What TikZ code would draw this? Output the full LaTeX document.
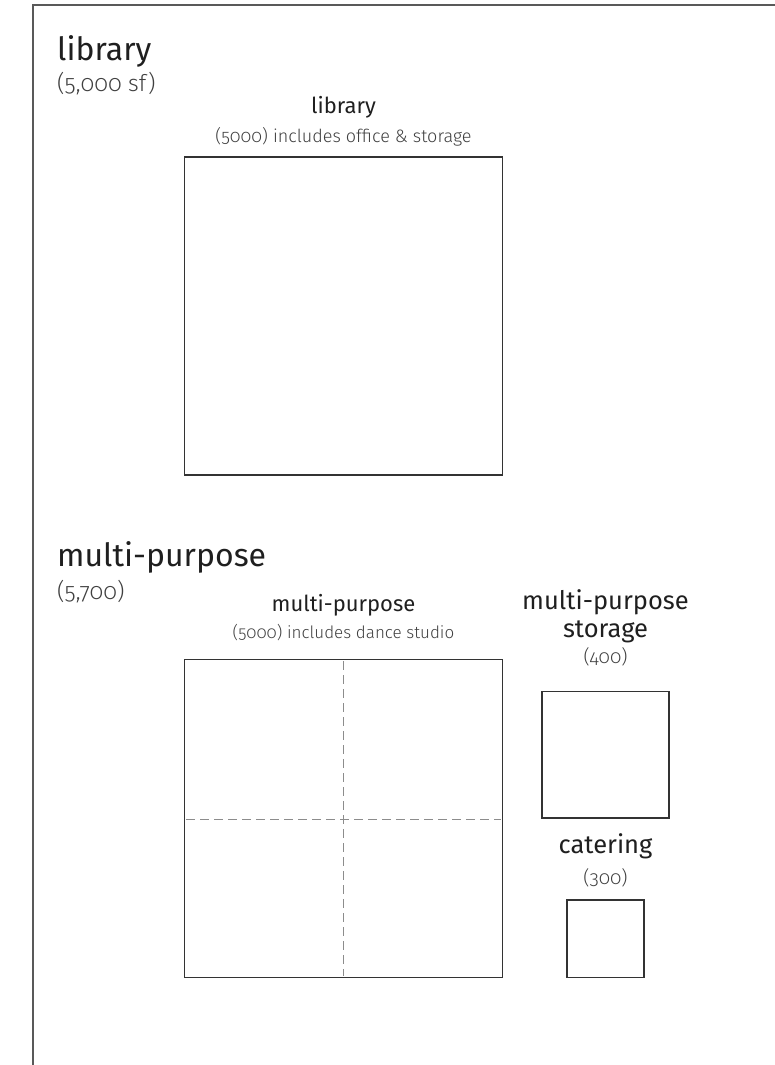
\documentclass[tikz,border=0pt]{standalone}
\usepackage{fontspec}
\setmainfont{Fira Sans}[Numbers=OldStyle]
\newfontfamily\lightfont{Fira Sans Light}[Numbers=OldStyle]
\begin{document}
\begin{tikzpicture}[x=1pt,y=-1pt,
  room/.style={draw=black!80,line width=1.2pt},
  grid/.style={draw=black!45,line width=1pt,dash pattern=on 9pt off 5pt},
  frame/.style={draw=black!65,line width=1.6pt},
  head/.style={anchor=base west,inner sep=0pt,text=black!88,font=\fontsize{32}{36}\selectfont},
  headsub/.style={anchor=base west,inner sep=0pt,text=black!75,font=\lightfont\fontsize{23}{26}\selectfont},
  title/.style={anchor=base,inner sep=0pt,text=black!88,font=\fontsize{22}{25}\selectfont},
  bigtitle/.style={title,font=\fontsize{25.5}{28}\selectfont},
  note/.style={anchor=base,inner sep=0pt,text=black!75,font=\lightfont\fontsize{17}{19}\selectfont},
  bignote/.style={note,font=\lightfont\fontsize{19}{21}\selectfont}]
\useasboundingbox (0,0) rectangle (774,1065);
\fill[white] (0,0) rectangle (774,1065);
% sheet edge
\draw[frame] (33,1070) -- (33,5) -- (780,5);

% library block
\node[head] (hlib) at (57,60) {library};
\node[headsub] (hlibsf) at (57,91) {(5,000 sf)};
\node[title] (tlib) at (343.5,113) {library};
\node[note,font=\lightfont\fontsize{18}{20}\selectfont] (nlib) at (343.5,142) {(5000) includes office \& storage};
\draw[room] (184.5,157) rectangle (502.5,475);

% multi-purpose block
\node[head] (hmp) at (57,566) {multi-purpose};
\node[headsub] (hmpsf) at (57,599) {(5,700)};
\node[title] (tmp) at (343.5,611) {multi-purpose};
\node[note] (nmp) at (343.5,638) {(5000) includes dance studio};
\draw[room] (184.5,659.5) rectangle (502.5,977.5);
\draw[grid] (343.5,661) -- (343.5,976);
\draw[grid] (186,819) -- (501,819);

% storage
\node[bigtitle] (tst1) at (605.5,609) {multi-purpose};
\node[bigtitle] (tst2) at (605.5,637) {storage};
\node[bignote] (nst) at (605.5,663) {(400)};
\draw[room] (542,691.5) rectangle (669,818);

% catering
\node[bigtitle] (tcat) at (605.5,853) {catering};
\node[bignote] (ncat) at (605.5,884) {(300)};
\draw[room] (567,900) rectangle (644,977.5);
\end{tikzpicture}
\end{document}
